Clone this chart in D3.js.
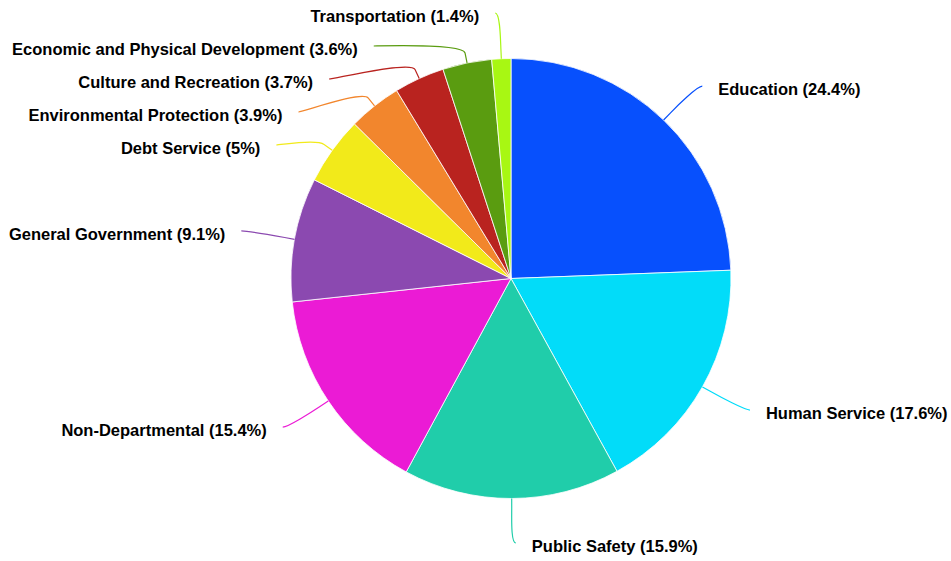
<!DOCTYPE html>
<html lang="en">
<head>
<meta charset="utf-8">
<title>Budget by function</title>
<script src="https://cdn.jsdelivr.net/npm/d3@7"></script>
<style>
  body { margin: 0; background: #fff; }
  text { font-family: "Liberation Sans", Arial, sans-serif; font-weight: bold; }
</style>
</head>
<body>
<script>
var categories = ["Education", "Human Service", "Public Safety", "Non-Departmental", "General Government",
                  "Debt Service", "Environmental Protection", "Culture and Recreation",
                  "Economic and Physical Development", "Transportation"];
var values = [24.4, 17.6, 15.9, 15.4, 9.1, 5, 3.9, 3.7, 3.6, 1.4];
var colors = ["#0750fd", "#02dcf9", "#20cdaa", "#eb1bd5", "#8b49b0",
              "#f2ea1a", "#f2862d", "#b9231f", "#5a9c10", "#a8f713"];

var w = 951, h = 561;
var cx = 511, cy = 278.5, r = 220;
var labelDist = 50;      // label circle is r + labelDist
var slot = 33;           // vertical spacing between labels
var labelTop = 13, labelBottom = 543;   // (window.top is read-only, so not "top")

var svg = d3.select("body").append("svg").attr("width", w).attr("height", h);
var g = svg.append("g").attr("transform", "translate(" + cx + "," + cy + ")");

var data = categories.map(function (c, i) { return { name: c, value: values[i], color: colors[i] }; });
var pie = d3.pie().sort(null).value(function (d) { return d.value; });
var arcs = pie(data);
var arc = d3.arc().innerRadius(0).outerRadius(r);

g.selectAll("path.slice").data(arcs).enter().append("path")
  .attr("class", "slice")
  .attr("d", arc)
  .attr("fill", function (d) { return d.data.color; })
  .attr("stroke", "#fff")
  .attr("stroke-width", 0.8);

// label layout, one column per side
var R = r + labelDist;
arcs.forEach(function (d) {
  d.mid = (d.startAngle + d.endAngle) / 2;
  d.left = d.mid > Math.PI;
  d.naturalY = -(R - 3) * Math.cos(d.mid);
  d.naturalX = R * Math.sin(d.mid);
});

function getX(y, left) {
  var a = Math.asin(Math.max(-1, Math.min(1, y / R)));
  return (left ? -1 : 1) * Math.cos(a) * R;
}

[true, false].forEach(function (side) {
  var list = arcs.filter(function (d) { return d.left === side; })
    .sort(function (a, b) { return a.naturalY - b.naturalY; });
  var t = labelTop - cy, b = labelBottom - cy;
  var prev = -Infinity;
  list.forEach(function (d) {
    d.y = Math.max(d.naturalY, prev + slot, t);
    prev = d.y;
  });
  var next = Infinity;
  for (var i = list.length - 1; i >= 0; i--) {
    list[i].y = Math.min(list[i].y, next - slot, b);
    next = list[i].y;
  }
  list.forEach(function (d) {
    var moved = Math.abs(d.y - d.naturalY) > 1;
    var atEdge = d.y <= t + 2 || d.y >= b - 2;
    if (moved && !atEdge) {
      d.x = getX(d.y, side);
    } else {
      // labels at their own angle sit a few px further out
      d.x = d.naturalX + (side ? -4 : 4);
    }
  });
});

// soft connectors: label -> break point (r + 10) -> slice edge
g.selectAll("path.connector").data(arcs).enter().append("path")
  .attr("class", "connector")
  .attr("fill", "none")
  .attr("stroke", function (d) { return d.data.color; })
  .attr("stroke-width", 1.2)
  .attr("d", function (d) {
    var tx = r * Math.sin(d.mid), ty = -r * Math.cos(d.mid);
    var bx = (r + 10) * Math.sin(d.mid), by = -(r + 10) * Math.cos(d.mid);
    var p = d3.path();
    p.moveTo(d.x, d.y);
    p.bezierCurveTo(d.x + (d.left ? 5 : -5), d.y, 2 * bx - tx, 2 * by - ty, bx, by);
    p.lineTo(tx, ty);
    return p.toString();
  });

g.selectAll("text.label").data(arcs).enter().append("text")
  .attr("class", "label")
  .attr("x", function (d) { return d.x + (d.left ? -16 : 16); })
  .attr("y", function (d) { return d.y + 9; })
  .attr("text-anchor", function (d) { return d.left ? "end" : "start"; })
  .attr("font-size", "16.5px")
  .attr("fill", "#000")
  .text(function (d) { return d.data.name + " (" + d.data.value + "%)"; });
</script>
</body>
</html>
